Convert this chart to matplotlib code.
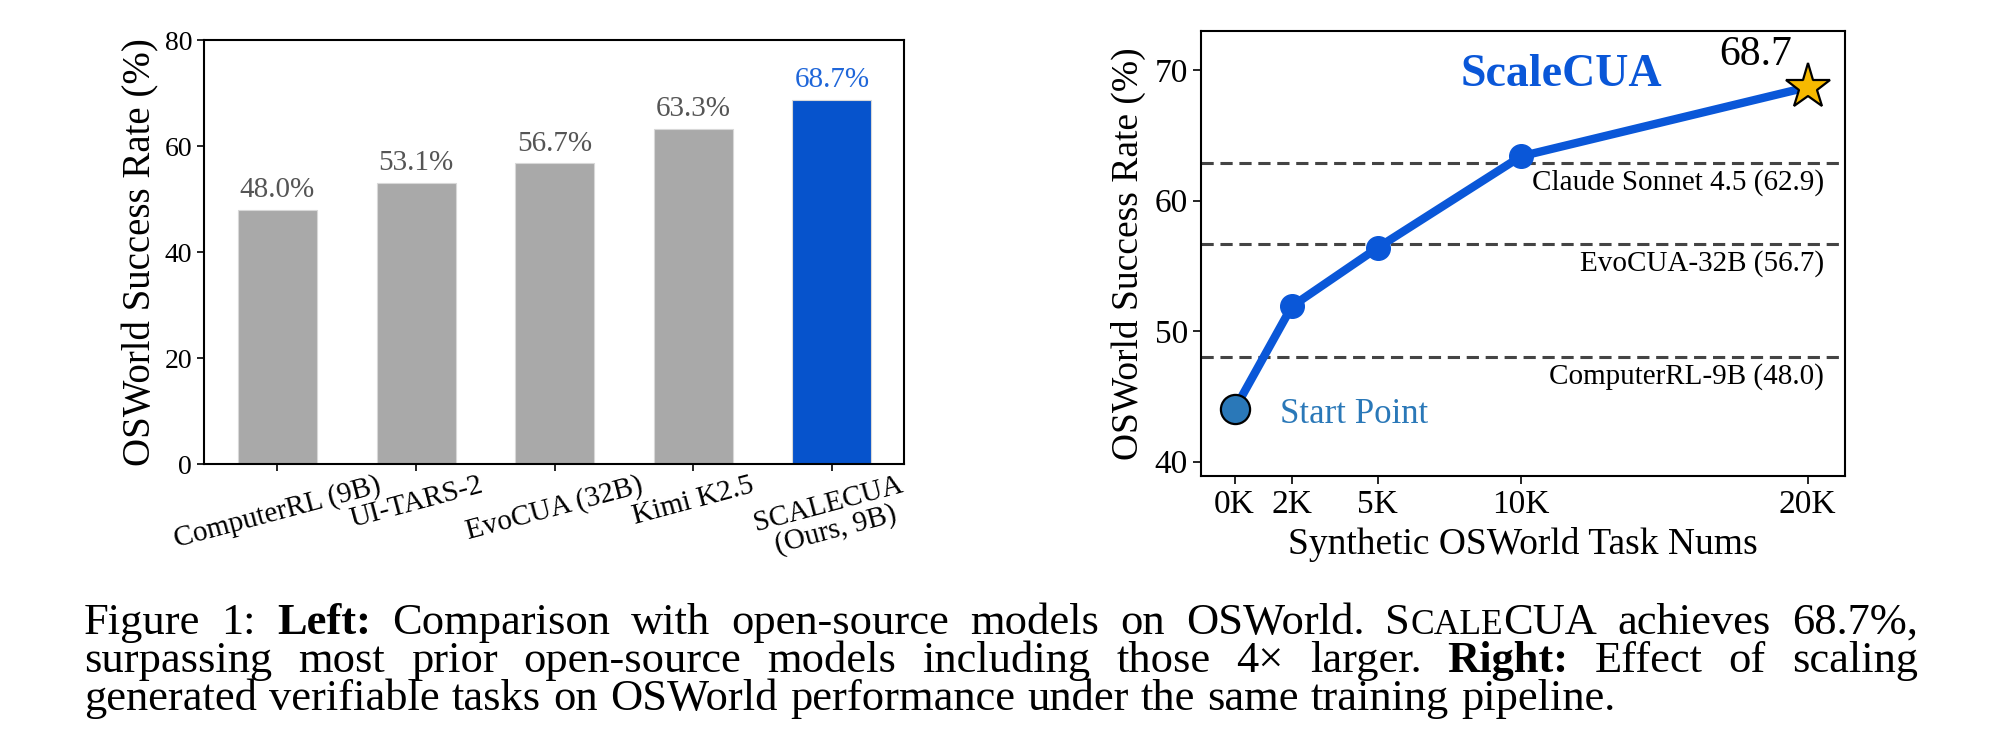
import numpy as np
import matplotlib
matplotlib.use("Agg")
import matplotlib.pyplot as plt

plt.rcParams['font.family'] = ['Liberation Serif', 'DejaVu Serif']

# left panel data
models = ["ComputerRL (9B)", "UI-TARS-2", "EvoCUA (32B)", "Kimi K2.5", "SCALECUA\n(Ours, 9B)"]
success = [48.0, 53.1, 56.7, 63.3, 68.7]

# right panel data
task_k = [0, 2, 5, 10, 20]
task_labels = ["0K", "2K", "5K", "10K", "20K"]
scale_rate = [44.0, 51.9, 56.4, 63.4, 68.7]
ref_names = ["Claude Sonnet 4.5", "EvoCUA-32B", "ComputerRL-9B"]
ref_vals = [62.9, 56.7, 48.0]

GRAY = "#a9a9a9"
BLUE = "#0653cc"
LINE_BLUE = "#0a57d8"

W, H = 2000, 753
fig = plt.figure(figsize=(W / 100, H / 100), dpi=100)


def rect(x0, y0, x1, y1):
    return [x0 / W, 1 - y1 / H, (x1 - x0) / W, (y1 - y0) / H]


# ---- left: bar chart
ax1 = fig.add_axes(rect(204, 40, 904, 464))
x = np.arange(len(models))
colors = [GRAY] * (len(models) - 1) + [BLUE]
ax1.bar(x, success, width=0.57, color=colors, edgecolor="#d8d8d8", linewidth=0.8)
for i, v in enumerate(success):
    c = "#1f66d9" if i == len(success) - 1 else "#555555"
    ax1.text(x[i], v + 1.3, f"{v:.1f}%", ha="center", va="bottom", fontsize=21, color=c)
ax1.set_xlim(-0.53, 4.52)
ax1.set_ylim(0, 80)
ax1.set_yticks([0, 20, 40, 60, 80])
ax1.set_xticks(x)
ax1.set_xticklabels(models, rotation=15, ha="center", fontsize=21, linespacing=1.0)
ax1.tick_params(axis="y", labelsize=20, length=5, width=1.2)
ax1.tick_params(axis="x", length=5, width=1.2, pad=1)
ax1.set_ylabel("OSWorld Success Rate (%)", fontsize=28, labelpad=4)
for s in ax1.spines.values():
    s.set_linewidth(1.5)

# ---- right: scaling curve
ax2 = fig.add_axes(rect(1201, 31, 1845, 476))
for name, v in zip(ref_names, ref_vals):
    ax2.axhline(v, color="#444444", lw=2.2, linestyle=(0, (4, 2.2)), zorder=1)
    ax2.text(20.58, v - 0.45, f"{name} ({v:.1f})", ha="right", va="top", fontsize=21)

ax2.plot(task_k[:-1], scale_rate[:-1], color=LINE_BLUE, lw=6, marker="o",
         markersize=17, zorder=3)
ax2.plot(task_k[-2:], scale_rate[-2:], color=LINE_BLUE, lw=6, zorder=3)
ax2.plot(task_k[0], scale_rate[0], marker="o", markersize=21, color="#2a78b8",
         markeredgecolor="black", markeredgewidth=1.6, zorder=4)
ax2.plot(task_k[-1], scale_rate[-1], marker="*", markersize=34, color="#f7b900",
         markeredgecolor="black", markeredgewidth=1.6, zorder=4)

ax2.text(1.6, 42.94, "Start Point", color="#2a78b8", fontsize=25, va="baseline")
ax2.text(11.4, 69.65, "ScaleCUA", color=LINE_BLUE, fontsize=33, fontweight="bold",
         ha="center", va="center")
ax2.text(18.2, 70.4, f"{scale_rate[-1]:.1f}", fontsize=30, ha="center", va="baseline")

ax2.set_xlim(-1.17, 21.3)
ax2.set_ylim(38.9, 73)
ax2.set_yticks([40, 50, 60, 70])
ax2.set_xticks(task_k)
ax2.set_xticklabels(task_labels)
ax2.tick_params(labelsize=24, length=6, width=1.2)
ax2.set_xlabel("Synthetic OSWorld Task Nums", fontsize=27, labelpad=5)
ax2.set_ylabel("OSWorld Success Rate (%)", fontsize=27, labelpad=6)
for s in ax2.spines.values():
    s.set_linewidth(1.5)

# ---- caption, justified line by line
CAP = 32
caption_lines = [
    [[("Figure", 1, False)], [("1:", 1, False)], [("Left:", 1, True)],
     [("Comparison", 1, False)], [("with", 1, False)], [("open-source", 1, False)],
     [("models", 1, False)], [("on", 1, False)], [("OSWorld.", 1, False)],
     [("S", 1, False), ("CALE", 0.8, False), ("CUA", 1, False)],
     [("achieves", 1, False)], [("68.7%,", 1, False)]],
    [[(w, 1, False)] for w in "surpassing most prior open-source models including those 4× larger.".split()]
    + [[("Right:", 1, True)]]
    + [[(w, 1, False)] for w in "Effect of scaling".split()],
    [[(w, 1, False)] for w in
     "generated verifiable tasks on OSWorld performance under the same training pipeline.".split()],
]
baselines = [634, 672, 710]
fig.canvas.draw()
renderer = fig.canvas.get_renderer()


def run_width(txt, scale, bold):
    t = fig.text(0, 0, txt, fontsize=CAP * scale, fontweight="bold" if bold else "normal")
    w = t.get_window_extent(renderer).width
    t.remove()
    return w


space = CAP * 100 / 72 * 0.25
for li, words in enumerate(caption_lines):
    widths = [[run_width(*r) for r in w] for w in words]
    total = sum(sum(ws) for ws in widths)
    if li < len(caption_lines) - 1:
        gap = (1918 - 84 - total) / (len(words) - 1)
    else:
        gap = space * 1.1
    xpos = 84
    for w, ws in zip(words, widths):
        for (txt, scale, bold), rw in zip(w, ws):
            fig.text(xpos / W, 1 - baselines[li] / H, txt, fontsize=CAP * scale,
                     fontweight="bold" if bold else "normal", va="baseline")
            xpos += rw
        xpos += gap

fig.savefig("out.png", dpi=100)
